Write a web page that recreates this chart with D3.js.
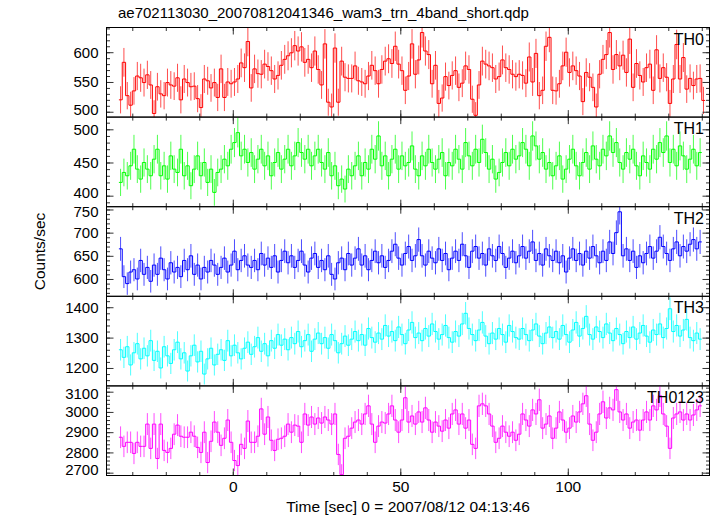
<!DOCTYPE html>
<html><head><meta charset="utf-8">
<script src="https://cdn.jsdelivr.net/npm/d3@7"></script>
<style>
body{margin:0;background:#fff}
svg{display:block}
text{font-family:"Liberation Sans",Arial,Helvetica,sans-serif}
</style>
</head><body>
<svg id="chart" width="717" height="516"></svg>
<script>
const chartTitle = "ae702113030_20070812041346_wam3_trn_4band_short.qdp";
const xAxisLabel = "Time [sec] 0 = 2007/08/12 04:13:46";
const yAxisLabel = "Counts/sec";
const panelNames = ["TH0", "TH1", "TH2", "TH3", "TH0123"];
const panelColors = ["#ff0000", "#00ff00", "#0000ff", "#00ffff", "#ff00ff"];
const binStart = -34;   // start time of first 1-s bin
const binWidth = 1;
const xTickLabels = [0, 50, 100];

const th0 = [
520,583,527,511,535,560,557,549,562,545,497,542,530,527,549,545,543,557,520,555,
549,542,543,522,507,555,552,540,549,524,572,524,550,547,550,555,582,574,618,540,
572,564,
563,580,576,569,555,561,578,588,594,599,611,602,609,583,588,574,602,571,545,614,
516,508,607,516,585,558,556,556,577,552,550,547,560,578,569,547,571,585,589,581,
610,580,569,536,560,614,
563,587,633,602,596,547,578,514,523,559,544,561,569,541,548,577,571,521,494,545,
585,580,577,574,555,559,587,574,571,563,559,563,561,548,592,550,598,527,536,610,
625,536,535,547,577,
600,566,577,569,560,517,566,558,541,508,563,588,596,633,571,596,577,595,566,622,
541,581,561,550,574,580,536,604,556,574,558,514,555,613,555,591,538,556,544,555,
556,519];
const th1 = [
420,435,430,445,470,440,425,450,440,430, 455,470,430,445,425,460,440,435,470,430,
445,415,440,460,430,450,420,440,405,435, 440,455,445,470,480,495,460,470,450,465,
440,455,470,445,460,430,450,465,440,455, 470,445,460,480,465,455,470,445,460,470,
450,440,465,430,445,415,425,410,440,430, 445,460,430,450,440,470,455,490,445,460,
430,455,470,440,460,445,450,475,440,430, 460,445,470,450,440,455,465,430,450,445,
470,455,440,480,460,445,470,450,485,465, 440,455,425,435,450,465,445,470,455,460,
480,470,445,490,475,455,465,440,450,430, 445,460,425,440,455,470,445,430,450,465,
440,475,455,445,470,460,490,465,480,450, 440,465,455,470,445,430,460,450,440,470,
455,480,465,490,450,470,445,475,460,440, 455,470,445,465];
const th2 = [
665,605,590,615,620,600,640,610,625,595, 630,610,645,620,600,635,615,625,605,640,
620,650,610,630,600,625,615,640,630,610, 625,645,615,630,660,620,640,650,630,625,
640,620,655,630,645,625,650,615,640,660, 635,650,625,640,660,630,615,645,655,625,
640,620,650,610,600,635,645,620,655,630, 645,665,630,650,620,640,660,635,650,625,
640,660,675,645,630,655,670,640,650,685, 650,630,660,645,635,665,640,655,620,645,
660,640,675,650,625,660,670,645,655,630, 665,650,640,670,655,625,645,660,635,650,
670,645,660,680,640,655,630,665,650,640, 660,635,650,615,645,665,640,655,630,660,
645,670,650,635,660,640,680,655,700,745, 650,665,640,660,625,650,635,655,670,645,
660,690,670,655,640,665,680,650,670,660, 675,685,665,680];
const th3 = [
1260,1235,1270,1210,1250,1280,1230,1265,1240,1290, 1225,1255,1200,1270,1240,1215,1260,1285,1230,1250,
1190,1240,1275,1220,1255,1180,1230,1265,1210,1245, 1260,1225,1290,1240,1275,1250,1230,1265,1285,1245,
1270,1300,1255,1280,1240,1290,1265,1310,1275,1295, 1260,1300,1280,1320,1270,1290,1310,1255,1295,1315,
1280,1300,1265,1310,1290,1250,1280,1305,1275,1295, 1320,1290,1310,1275,1330,1300,1285,1315,1295,1340,
1305,1320,1290,1335,1310,1280,1325,1350,1300,1315, 1290,1330,1305,1345,1320,1295,1310,1340,1300,1285,
1320,1305,1345,1380,1330,1310,1290,1325,1350,1305, 1280,1315,1295,1330,1310,1285,1340,1320,1300,1295,
1330,1310,1290,1325,1345,1305,1280,1315,1335,1300, 1320,1295,1340,1310,1285,1325,1350,1305,1330,1370,
1310,1295,1335,1320,1300,1345,1315,1290,1330,1310, 1280,1320,1300,1335,1295,1315,1340,1305,1285,1325,
1310,1345,1300,1330,1395,1320,1340,1305,1325,1360, 1300,1290,1315,1295];
const th0123 = [
2875,2830,2850,2850,2795,2850,2830,2830,2940,2820, 2940,2770,2940,2810,2800,2820,2890,2935,2880,2875,
2875,2900,2880,2825,2800,2900,2750,2855,2950,2900, 2835,2870,2960,2850,2760,2735,2840,2820,2955,2850,
2850,2880,3015,2890,2975,2860,2810,2865,2870,2880, 2940,2900,2935,2930,2850,2990,2935,2975,2940,2970,
2945,2975,2960,2940,2990,2790,2690,2870,2880,2920, 2950,2960,2940,2990,3030,2940,2850,2930,2950,2945,
2990,3030,2960,2900,2960,3070,2950,2980,2940,3000, 2950,3020,2960,2900,2950,2930,2905,2960,2920,2990,
3010,2940,2990,2920,2960,2840,2820,3030,3040,3030, 2990,2930,2850,2870,2930,2900,2880,2900,2860,2890,
2990,2960,2930,3010,2990,3060,2920,2940,2980,2870, 2920,3000,2960,2900,2920,2980,2950,3000,3040,3080,
2940,2860,2900,2990,3050,2970,3020,3010,3110,3000, 2960,2990,2920,2950,2960,2910,2960,3000,2960,3030,
3010,3080,2990,2930,2820,2970,2990,3000,2960,2990, 2960,2985,3010,3030];

const seriesValues = [th0, th1, th2, th3, th0123];
const yDomains = [[491, 641.5], [383.4, 518.4], [562.6, 756], [1141, 1436], [2686, 3128.6]];
const yLabelStep = [50, 50, 50, 100, 100];
const yMinorStep = [10, 10, 10, 20, 20];

const svg = d3.select("#chart");
const left = 106.5, right = 709.5, top0 = 27.5, panelH = 89.6;
const x = d3.scaleLinear().domain([-37.7, 142.3]).range([left, right]);
const xMinorTicks = d3.range(-30, 141, 10);
const fontStack = '"Liberation Sans",Arial,sans-serif';

svg.append("text").attr("x", 118).attr("y", 18).attr("font-size", 15).text(chartTitle);

seriesValues.forEach((vals, p) => {
  const y0 = top0 + p * panelH, y1 = y0 + panelH;
  const y = d3.scaleLinear().domain(yDomains[p]).range([y1, y0]);
  const g = svg.append("g");
  const clipId = "clip" + p;
  svg.append("clipPath").attr("id", clipId).append("rect")
    .attr("x", left).attr("y", y0).attr("width", right - left).attr("height", panelH);
  const dg = g.append("g").attr("clip-path", `url(#${clipId})`);

  // error bars (Poisson, 1-s bins)
  dg.selectAll("line.err").data(vals).join("line")
    .attr("x1", (d, i) => x(binStart + (i + 0.5) * binWidth))
    .attr("x2", (d, i) => x(binStart + (i + 0.5) * binWidth))
    .attr("y1", d => y(d - Math.sqrt(d * binWidth) / binWidth))
    .attr("y2", d => y(d + Math.sqrt(d * binWidth) / binWidth))
    .attr("stroke", panelColors[p]).attr("stroke-width", 1).attr("stroke-opacity", 0.7);

  // step line
  const pts = vals.map((v, i) => [binStart + i * binWidth, v]);
  pts.push([binStart + vals.length * binWidth, vals[vals.length - 1]]);
  dg.append("path").datum(pts)
    .attr("d", d3.line().x(d => x(d[0])).y(d => y(d[1])).curve(d3.curveStepAfter))
    .attr("fill", "none").attr("stroke", panelColors[p]).attr("stroke-width", 1);

  // y ticks
  const [lo, hi] = yDomains[p];
  const majors = d3.range(Math.ceil(lo / yLabelStep[p]) * yLabelStep[p], hi, yLabelStep[p]);
  const minors = d3.range(Math.ceil(lo / yMinorStep[p]) * yMinorStep[p], hi, yMinorStep[p]);
  const ax = (axis, tx, ty) => {
    const a = g.append("g").attr("transform", `translate(${tx},${ty})`).call(axis);
    a.select(".domain").remove();
    a.selectAll("line").attr("stroke", "#333");
    return a;
  };
  ax(d3.axisRight(y).tickValues(minors).tickSize(3.5).tickFormat(""), left, 0);
  ax(d3.axisRight(y).tickValues(majors).tickSize(7).tickFormat(""), left, 0);
  ax(d3.axisLeft(y).tickValues(minors).tickSize(3.5).tickFormat(""), right, 0);
  ax(d3.axisLeft(y).tickValues(majors).tickSize(7).tickFormat(""), right, 0);
  const lab = ax(d3.axisLeft(y).tickValues(majors).tickSize(0).tickPadding(8).tickFormat(d3.format("d")), left, 0);
  lab.selectAll("text").attr("font-size", 15).attr("fill", "#000").attr("font-family", fontStack)
    .attr("transform", d => {
      const py = y(d);
      if (py - y0 < 8) return "translate(0,2)";
      if (y1 - py < 14) return "translate(0,-2.5)";
      return null;
    });

  // x ticks on top and bottom edges of panel
  ax(d3.axisBottom(x).tickValues(xMinorTicks).tickSize(3.5).tickFormat(""), 0, y0);
  ax(d3.axisBottom(x).tickValues(xTickLabels).tickSize(7).tickFormat(""), 0, y0);
  ax(d3.axisTop(x).tickValues(xMinorTicks).tickSize(3.5).tickFormat(""), 0, y1);
  ax(d3.axisTop(x).tickValues(xTickLabels).tickSize(7).tickFormat(""), 0, y1);

  g.append("rect").attr("x", left).attr("y", y0).attr("width", right - left).attr("height", panelH)
    .attr("fill", "none").attr("stroke", "#000").attr("stroke-width", 1);

  g.append("text").attr("x", 704).attr("y", y0 + 17).attr("text-anchor", "end")
    .attr("font-size", 16).text(panelNames[p]);
});

const bottom = top0 + 5 * panelH;
const xl = svg.append("g").attr("transform", `translate(0,${bottom})`)
  .call(d3.axisBottom(x).tickValues(xTickLabels).tickSize(0).tickPadding(5).tickFormat(d3.format("d")));
xl.select(".domain").remove();
xl.selectAll("text").attr("font-size", 15.5).attr("fill", "#000").attr("font-family", fontStack);

svg.append("text").attr("x", 408).attr("y", 512).attr("text-anchor", "middle")
  .attr("font-size", 15.5).text(xAxisLabel);
svg.append("text").attr("transform", `translate(45,${top0 + 2.5 * panelH}) rotate(-90)`)
  .attr("text-anchor", "middle").attr("font-size", 15.5).text(yAxisLabel);
</script>
</body></html>
